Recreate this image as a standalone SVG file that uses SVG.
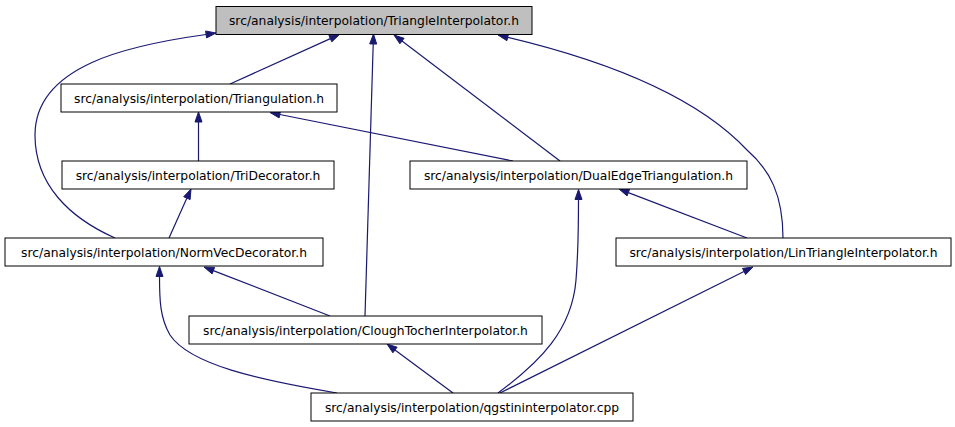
<svg xmlns="http://www.w3.org/2000/svg" width="955" height="427" viewBox="0 0 955 427">
<style>
.node rect{fill:#ffffff;stroke:#000000;stroke-width:1}
.node.root rect{fill:#bfbfbf}
.node text{font-family:"DejaVu Sans",sans-serif;font-size:12.3px;fill:#000000;text-anchor:middle}
.edges path,.edges line{fill:none;stroke:#191970;stroke-width:1.2}
.edges polygon{fill:#191970;stroke:#191970;stroke-width:1}
</style>
<rect x="0" y="0" width="955" height="427" fill="#ffffff"/>
<g class="edges" id="edges">
<line x1="230" y1="84" x2="330.4" y2="38.6"/>
<polygon points="339.5,34.5 331.8,41.8 328.9,35.4"/>
<path d="M115,238 C70,218 35,185 35,135 C35,65 130,45 206.1,34.5"/>
<polygon points="216,33 206.6,37.9 205.6,31.0"/>
<line x1="365" y1="316" x2="373.2" y2="44"/>
<polygon points="373.5,34 376.7,44.1 369.7,43.9"/>
<line x1="560" y1="161" x2="402" y2="41"/>
<polygon points="394,35 404.1,38.3 399.9,43.8"/>
<path d="M783,238 C783,195 770,170 747,150 C700,100 620,64 507.7,37.3"/>
<polygon points="498,35 508.5,33.9 506.9,40.7"/>
<line x1="198.5" y1="161" x2="198.5" y2="122"/>
<polygon points="198.5,112 202,122 195,122"/>
<line x1="513" y1="161" x2="279.8" y2="114.5"/>
<polygon points="270,112.5 280.5,111.0 279.1,117.9"/>
<line x1="169" y1="238" x2="186.9" y2="198.1"/>
<polygon points="191,189 190.1,199.6 183.7,196.7"/>
<path d="M498,393 C540,362 572,330 576,280 C578,255 578.5,225 578.5,199.5"/>
<polygon points="578.5,189.5 582,199.5 575,199.5"/>
<line x1="747" y1="238" x2="628.3" y2="192.6"/>
<polygon points="619,189 629.6,189.3 627.1,195.9"/>
<line x1="330" y1="316" x2="213.3" y2="270.6"/>
<polygon points="204,267 214.6,267.4 212.1,273.9"/>
<path d="M337,393 C260,380 190,365 170,335 C160,318 159.5,300 159.5,276.5"/>
<polygon points="159.5,266.5 163,276.5 156,276.5"/>
<line x1="453" y1="393" x2="395" y2="350"/>
<polygon points="387,344 397.1,347.2 392.9,352.8"/>
<line x1="500" y1="393" x2="744" y2="271.5"/>
<polygon points="753,267 745.6,274.6 742.5,268.4"/>
</g>
<g class="node root" id="node1">
<rect x="216" y="6.5" width="316" height="28"/>
<text x="374" y="25">src/analysis/interpolation/TriangleInterpolator.h</text>
</g>
<g class="node" id="node2">
<rect x="61" y="84" width="276" height="28"/>
<text x="199" y="103">src/analysis/interpolation/Triangulation.h</text>
</g>
<g class="node" id="node3">
<rect x="62" y="161" width="272" height="28"/>
<text x="198" y="180">src/analysis/interpolation/TriDecorator.h</text>
</g>
<g class="node" id="node4">
<rect x="410" y="161" width="337" height="28"/>
<text x="578.5" y="180">src/analysis/interpolation/DualEdgeTriangulation.h</text>
</g>
<g class="node" id="node5">
<rect x="5" y="238" width="318" height="28"/>
<text x="164" y="257">src/analysis/interpolation/NormVecDecorator.h</text>
</g>
<g class="node" id="node6">
<rect x="616" y="238" width="335" height="28"/>
<text x="783.5" y="257">src/analysis/interpolation/LinTriangleInterpolator.h</text>
</g>
<g class="node" id="node7">
<rect x="189" y="316" width="353" height="28"/>
<text x="365.5" y="335">src/analysis/interpolation/CloughTocherInterpolator.h</text>
</g>
<g class="node" id="node8">
<rect x="311" y="393" width="322" height="28"/>
<text x="472" y="412">src/analysis/interpolation/qgstininterpolator.cpp</text>
</g>
</svg>
